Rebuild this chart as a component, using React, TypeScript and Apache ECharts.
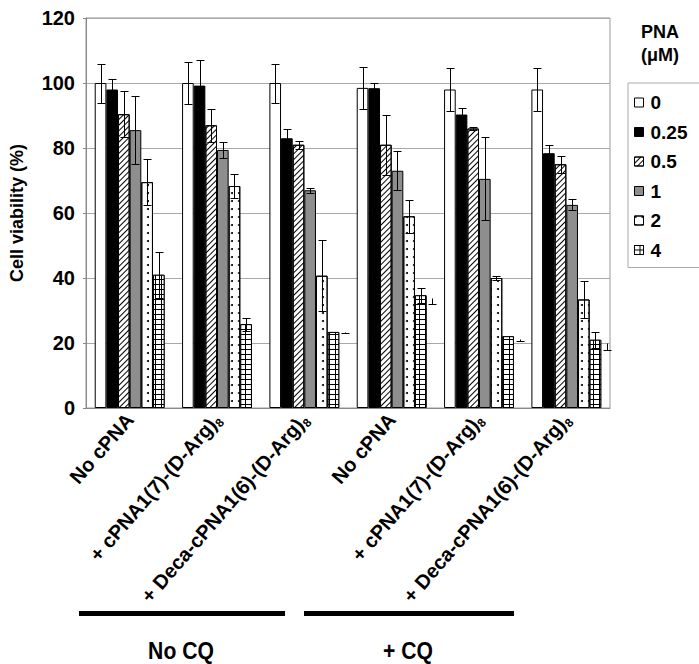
import React, { useEffect, useRef } from "react";
import * as echarts from "echarts";

const groupLabels = [
  "No cPNA",
  "+ cPNA1(7)-(D-Arg)8",
  "+ Deca-cPNA1(6)-(D-Arg)8",
  "No cPNA",
  "+ cPNA1(7)-(D-Arg)8",
  "+ Deca-cPNA1(6)-(D-Arg)8",
];
const conditions = ["No CQ", "+ CQ"];
const doses = ["0", "0.25", "0.5", "1", "2", "4"];

const v0 = [100, 100, 100, 98.5, 98, 98];
const e0 = [6, 6.5, 6, 6.5, 6.5, 6.5];
const v025 = [98, 99.2, 83, 98.4, 90.3, 78.4];
const e025 = [3.2, 8, 2.7, 1.6, 2, 2.6];
const v05 = [90.4, 87, 81, 81, 86, 75];
const e05 = [7, 5, 1.3, 9.3, 0.5, 2.6];
const v1 = [85.5, 79.4, 67, 73, 70.5, 62.5];
const e1 = [10.5, 2.6, 0.7, 6, 12.8, 1.7];
const v2 = [69.5, 68.3, 40.7, 59, 40, 33.4];
const e2 = [7, 3.7, 11, 5, 0.5, 5.6];
const v4 = [41, 25.8, 23.4, 34.7, 22.1, 21];
const e4 = [7, 2, 0, 2.3, 0, 2.5];

// stray error marks drawn beside the last bar
const strayLow = [null, null, 23, 31.9, 20.7, 18];
const strayHigh = [null, null, 23.5, 33.9, 21.3, 20];

const yTicks = [0, 20, 40, 60, 80, 100, 120];

const FONT = '"Liberation Sans", Arial, sans-serif';

const values = [v0, v025, v05, v1, v2, v4];
const errors = [e0, e025, e05, e1, e2, e4];

const styles: any[] = [
  { color: "#ffffff" },
  { color: "#000000" },
  {
    color: "#ffffff",
    decal: {
      symbol: "rect",
      color: "#000000",
      dashArrayX: [1, 0],
      dashArrayY: [1, 2.2],
      rotation: -Math.PI / 4,
      symbolSize: 1,
    },
  },
  { color: "#8e8e8e" },
  {
    color: "#ffffff",
    decal: {
      symbol: "circle",
      color: "#000000",
      dashArrayX: [1.5, 4.5],
      dashArrayY: [1.5, 6],
      symbolSize: 1,
    },
  },
  {
    color: "#000000",
    decal: {
      symbol: "rect",
      color: "#ffffff",
      dashArrayX: [4.5, 1],
      dashArrayY: [3.3, 1],
      symbolSize: 1,
    },
  },
];

export default function App() {
  const ref = useRef<HTMLDivElement>(null);
  useEffect(() => {
    document.body.style.margin = "0";
    const chart = echarts.init(ref.current!, null, { renderer: "svg" });

    const errData: any[] = [];
    values.forEach((arr, i) => {
      arr.forEach((v, g) => {
        const e = errors[i][g];
        if (e > 0) errData.push([g, v - e, v + e, i, 1]);
      });
    });
    const strayData: any[] = [];
    strayLow.forEach((lo, g) => {
      if (lo != null) strayData.push([g, lo, strayHigh[g], 6, 0]);
    });

    const renderErr = (params: any, api: any) => {
      const g = api.value(0);
      const lo = api.value(1);
      const hi = api.value(2);
      const slot = api.value(3);
      const full = api.value(4);
      const band = api.size([1, 0])[0];
      const barW = (band * 0.8) / 6;
      const cx = Math.round(api.coord([g, 0])[0] - band * 0.4 + barW * (slot + 0.5)) + 0.5;
      const yl = Math.round(api.coord([g, lo])[1]) + 0.5;
      const yh = Math.round(api.coord([g, hi])[1]) + 0.5;
      const cap = 4;
      const st = { stroke: "#000", lineWidth: 1 };
      const children: any[] = [
        { type: "line", shape: { x1: cx, y1: yl, x2: cx, y2: yh }, style: st },
        { type: "line", shape: { x1: cx - cap, y1: yl, x2: cx + cap, y2: yl }, style: st },
      ];
      if (full) {
        children.push({ type: "line", shape: { x1: cx - cap, y1: yh, x2: cx + cap, y2: yh }, style: st });
      }
      return { type: "group", children };
    };

    const labelFormatter = (v: string) => {
      if (v.endsWith(")8")) return "{a|" + v.slice(0, -1) + "}{s|8}";
      return "{a|" + v + "}";
    };

    const condStyle = (text: string) => ({
      text,
      fontSize: 23,
      fontWeight: "bold",
      fill: "#000",
      fontFamily: FONT,
      align: "center",
      verticalAlign: "middle",
    });

    const option: any = {
      animation: false,
      textStyle: { fontFamily: FONT },
      grid: {
        left: 83,
        right: 89,
        top: 18,
        bottom: 256,
        show: true,
        borderColor: "#999",
        borderWidth: 1,
      },
      legend: {
        data: doses,
        orient: "vertical",
        left: 628,
        top: 83,
        itemWidth: 9,
        itemHeight: 9,
        itemGap: 10.5,
        icon: "rect",
        padding: [10, 30, 8, 6],
        borderColor: "#aaa",
        borderWidth: 1,
        textStyle: { fontSize: 19, fontWeight: "bold", color: "#000", fontFamily: FONT, lineHeight: 19, padding: [0, 0, 0, 2] },
        itemStyle: { borderColor: "#000", borderWidth: 1 },
      },
      xAxis: {
        type: "category",
        data: groupLabels,
        axisLine: { lineStyle: { color: "#888" } },
        axisTick: { show: false },
        axisLabel: {
          interval: 0,
          rotate: 49,
          margin: 8,
          color: "#000",
          formatter: labelFormatter,
          rich: {
            a: { fontSize: 20, fontWeight: "bold", fontFamily: FONT, lineHeight: 25, color: "#000" },
            s: { fontSize: 12, fontWeight: "bold", fontFamily: FONT, lineHeight: 25, verticalAlign: "bottom", color: "#000" },
          },
        },
      },
      yAxis: {
        type: "value",
        min: yTicks[0],
        max: yTicks[yTicks.length - 1],
        interval: 20,
        name: "Cell viability (%)",
        nameLocation: "middle",
        nameRotate: 90,
        nameGap: 60,
        nameTextStyle: { fontSize: 18, fontWeight: "bold", color: "#000", fontFamily: FONT },
        axisLine: { show: true, lineStyle: { color: "#888" } },
        axisTick: { show: true, length: 3, lineStyle: { color: "#888" } },
        axisLabel: { fontSize: 20, fontWeight: "bold", color: "#000", margin: 11, fontFamily: FONT },
        splitLine: { lineStyle: { color: "#a8a8a8" } },
      },
      series: [
        ...doses.map((d, i) => ({
          name: d,
          type: "bar",
          data: values[i],
          barGap: 0,
          barCategoryGap: "20%",
          itemStyle: { ...styles[i], borderColor: "#000", borderWidth: 1 },
        })),
        {
          type: "custom",
          name: "err",
          data: errData,
          renderItem: renderErr,
          encode: { x: 0, y: [1, 2] },
          z: 10,
          silent: true,
        },
        {
          type: "custom",
          name: "stray",
          data: strayData,
          renderItem: renderErr,
          encode: { x: 0, y: [1, 2] },
          z: 10,
          silent: true,
        },
      ],
      graphic: [
        {
          type: "text",
          x: 660,
          y: 32,
          style: { text: "PNA", fontSize: 18, fontWeight: "bold", fill: "#000", fontFamily: FONT, align: "center", verticalAlign: "middle" },
        },
        {
          type: "text",
          x: 660,
          y: 55,
          style: { text: "(\u03bcM)", fontSize: 18, fontWeight: "bold", fill: "#000", fontFamily: FONT, align: "center", verticalAlign: "middle" },
        },
        { type: "rect", shape: { x: 79, y: 611, width: 206, height: 5 }, style: { fill: "#000" } },
        { type: "rect", shape: { x: 304, y: 611, width: 210, height: 5 }, style: { fill: "#000" } },
        { type: "text", x: 181, y: 651, scaleX: 0.92, style: condStyle(conditions[0]) },
        { type: "text", x: 408, y: 651, scaleX: 0.92, style: condStyle(conditions[1]) },
      ],
    };
    chart.setOption(option);
    return () => chart.dispose();
  }, []);
  return <div ref={ref} style={{ width: 699, height: 664 }} />;
}
